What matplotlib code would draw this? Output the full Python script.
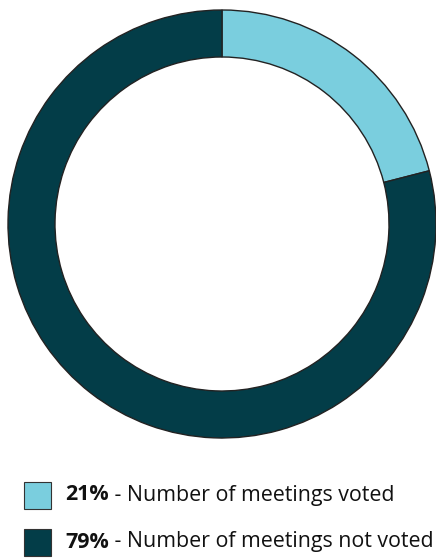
import matplotlib.pyplot as plt
from matplotlib.patches import Rectangle

# data
labels = ["Number of meetings voted", "Number of meetings not voted"]
pcts = [21, 79]
colours = ["#7ACEDE", "#033D48"]

plt.rcParams['font.family'] = ['Open Sans', 'DejaVu Sans']

fig = plt.figure(figsize=(4.36, 5.58), dpi=100)

# donut
R = 214
ax = fig.add_axes([(222 - R) / 436, 1 - (224 + R) / 558, 2 * R / 436, 2 * R / 558])
ax.pie(pcts, colors=colours, startangle=90, counterclock=False,
       radius=1, wedgeprops=dict(width=47 / R, edgecolor="#222222", linewidth=1))
ax.set_xlim(-1, 1)
ax.set_ylim(-1, 1)
ax.set_aspect("equal")
ax.axis("off")

# legend drawn by hand in pixel coordinates
lax = fig.add_axes([0, 0, 1, 1])
lax.set_xlim(0, 436)
lax.set_ylim(558, 0)
lax.axis("off")
rows_y = [495, 542]
for y, p, lab, c in zip(rows_y, pcts, labels, colours):
    lax.add_patch(Rectangle((24, y - 13), 27, 27, facecolor=c, edgecolor="#333333", linewidth=0.8))
    t = lax.text(65, y, f"{p}%", fontsize=15.4, fontweight="bold", va="center", color="#111111")
    lax.annotate(f" - {lab}", xycoords=t, xy=(1, 0), va="bottom", fontsize=15.4, color="#111111")

fig.savefig("out.png", dpi=100)
